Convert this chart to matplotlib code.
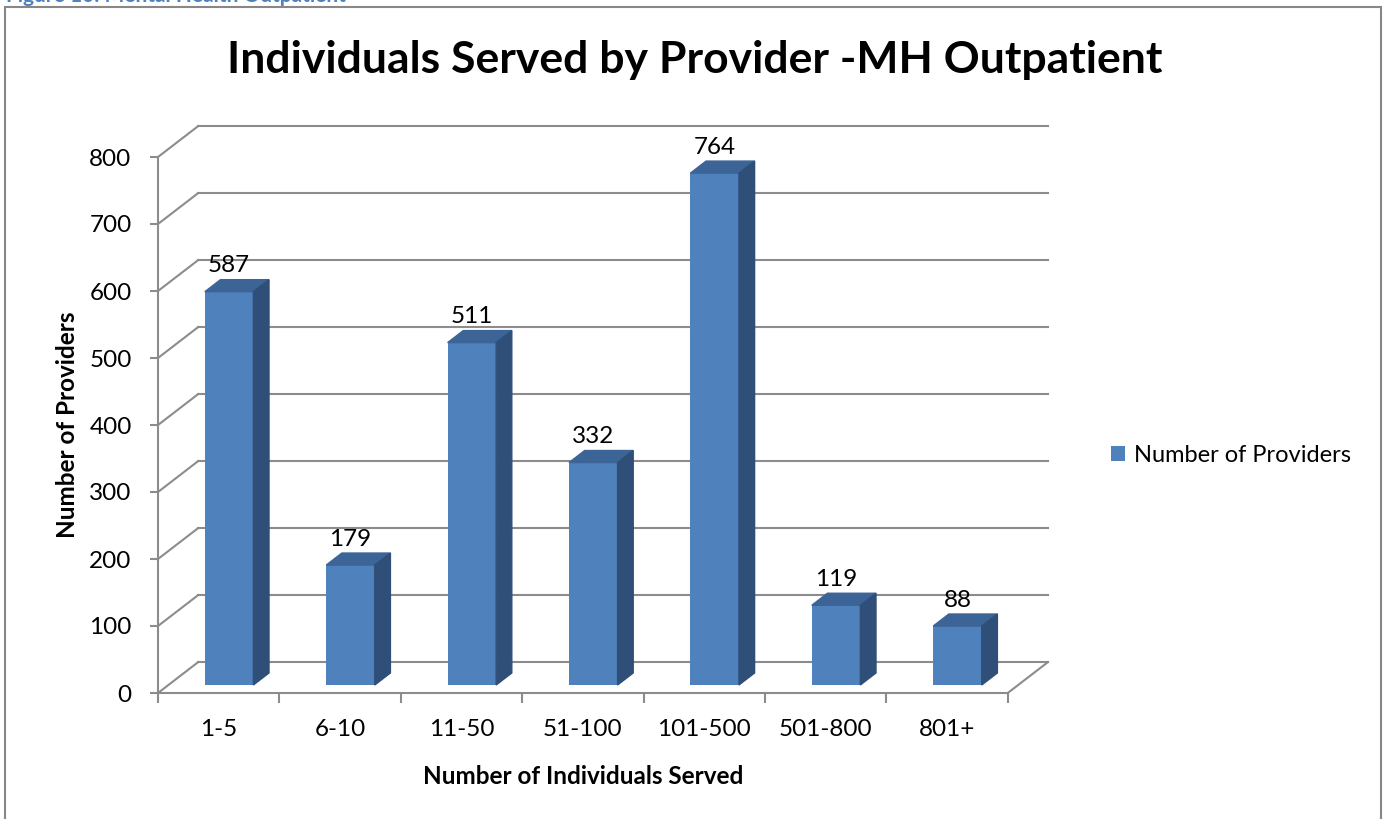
import matplotlib.pyplot as plt
from matplotlib.patches import Polygon, Rectangle
import numpy as np

plt.rcParams['font.family'] = ['Lato', 'DejaVu Sans']

# data
categories = ['1-5', '6-10', '11-50', '51-100', '101-500', '501-800', '801+']
providers = [587, 179, 511, 332, 764, 119, 88]
yticks = [0, 100, 200, 300, 400, 500, 600, 700, 800]

# oblique "3D" look: offset of the back wall in data units
DX, DY = 0.33, 46.0
F1, F2 = 0.26, 0.65      # depth of bar front / back faces
W = 0.40                 # bar width in category units
grid_c = '#8c8c8c'
front_c, top_c, side_c = '#4F81BD', '#3C6496', '#2F4E78'
FS = 17.5

fig = plt.figure(figsize=(13.83, 8.19), dpi=100)
ax = fig.add_axes([158 / 1383, 126 / 819, 904.4 / 1383, 582.9 / 819])
ax.set_xlim(0, 7.45)
ax.set_ylim(0, 870)

# back wall and side wall lines
for v in yticks:
    ax.plot([DX, 7 + DX], [v + DY, v + DY], color=grid_c, lw=1.5, clip_on=False, zorder=1)
    ax.plot([0, DX], [v, v + DY], color=grid_c, lw=1.5, clip_on=False, zorder=1)
ax.plot([7, 7 + DX], [0, DY], color=grid_c, lw=1.5, clip_on=False, zorder=1)

# bars
x = np.arange(len(categories))
x0 = x + 0.5 - W / 2 + F1 * DX
bars = ax.bar(x0, providers, width=W, bottom=F1 * DY, align='edge',
              color=front_c, zorder=3, label='Number of Providers')
ddx = (F2 - F1) * DX
for xi, v in zip(x0, providers):
    top = [(xi, v + F1 * DY), (xi + W, v + F1 * DY),
           (xi + W + ddx, v + F2 * DY), (xi + ddx, v + F2 * DY)]
    side = [(xi + W, F1 * DY), (xi + W + ddx, F2 * DY),
            (xi + W + ddx, v + F2 * DY), (xi + W, v + F1 * DY)]
    ax.add_patch(Polygon(top, closed=True, color=top_c, zorder=3))
    ax.add_patch(Polygon(side, closed=True, color=side_c, zorder=3))
    ax.text(xi + W / 2, v + F2 * DY + 11, str(v), ha='center', va='baseline',
            fontsize=FS, zorder=4)

# axes
for s in ['top', 'right']:
    ax.spines[s].set_visible(False)
ax.spines['left'].set_bounds(0, 800)
ax.spines['bottom'].set_bounds(0, 7)
for s in ['left', 'bottom']:
    ax.spines[s].set_color(grid_c)
    ax.spines[s].set_linewidth(1.5)

ax.set_yticks(yticks)
ax.tick_params(axis='y', length=6, width=1.5, color=grid_c, pad=13, labelsize=FS)
ax.set_xticks(x + 0.5)
ax.set_xticklabels(categories)
ax.set_xticks(np.arange(8), minor=True)
ax.tick_params(axis='x', which='major', length=0, pad=19, labelsize=FS)
ax.tick_params(axis='x', which='minor', length=7, width=1.5, color=grid_c)

ax.set_xlabel('Number of Individuals Served', fontsize=FS, fontweight='bold')
ax.xaxis.set_label_coords(3.5 / 7.45, -0.124)
ax.set_ylabel('Number of Providers', fontsize=FS, fontweight='bold')
ax.yaxis.set_label_coords(-0.0874, 0.46)

ax.legend(handles=[bars], loc='center left', bbox_to_anchor=(1099 / 1383, 1 - 455 / 819),
          bbox_transform=fig.transFigure, frameon=False, fontsize=17,
          handlelength=0.6, handleheight=0.6, handletextpad=0.4, borderpad=0)

fig.suptitle('Individuals Served by Provider -MH Outpatient', x=695 / 1383, y=1 - 60 / 819,
             va='center', fontsize=32, fontweight='bold')

# caption cut off at the top, and the chart border
fig.text(6 / 1383, 1 - 1.5 / 819, 'Figure 10: Mental Health Outpatient', color='#4F81BD',
         fontsize=15, fontweight='bold', va='baseline')
fig.patches.append(Rectangle((5 / 1383, -0.01), 1376 / 1383, 1 - 7 / 819 + 0.01,
                             transform=fig.transFigure, fill=False, ec='#878787', lw=1.5))

fig.savefig('out.png', dpi=100)
